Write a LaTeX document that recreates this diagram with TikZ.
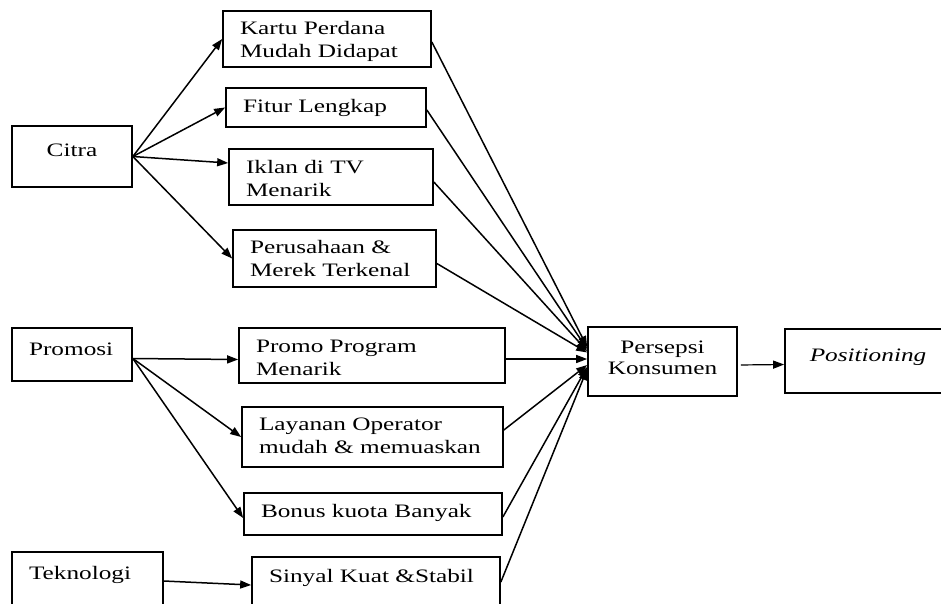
\documentclass[tikz,border=0pt]{standalone}
\usepackage{fontspec}
\setmainfont{Liberation Serif}[FakeStretch=1.33]
\usetikzlibrary{arrows.meta}
\begin{document}
\begin{tikzpicture}[x=1pt,y=-1pt,
  every node/.style={font=\fontsize{19pt}{23pt}\selectfont},
  box/.style={draw, line width=1.7pt, rectangle, inner xsep=17pt, inner ysep=0pt,
    align=left, text height=13pt},
  cbox/.style={draw, line width=1.7pt, rectangle, inner sep=0pt,
    align=center, text height=13pt},
  arr/.style={line width=1.5pt, -{Triangle[length=11pt,width=8pt]}},
  thinarr/.style={line width=1.2pt, -{Triangle[length=11pt,width=8pt]}}
]
\useasboundingbox (0,0) rectangle (941,603);

% left column
\node[cbox, minimum width=120pt, minimum height=61pt, text depth=14pt] (citra) at (72,156.5) {Citra};
\node[box, text width=86pt, minimum height=53pt, text depth=12pt] (promosi) at (72,354.5) {Promosi};
\node[box, text width=117pt, minimum height=58pt, text depth=17pt] (teknologi) at (87.5,581) {Teknologi};

% middle column
\node[box, text width=174pt, minimum height=56pt, text depth=23pt] (kartu) at (327,39) {Kartu Perdana\\Mudah Didapat};
\node[box, text width=166pt, minimum height=39pt, text depth=4pt] (fitur) at (326,107.5) {Fitur Lengkap};
\node[box, text width=170pt, minimum height=56pt, text depth=21pt] (iklan) at (331,177) {Iklan di TV\\Menarik};
\node[box, text width=169pt, minimum height=57pt, text depth=24pt] (perus) at (334.5,258.5) {Perusahaan \&\\Merek Terkenal};
\node[box, text width=232pt, minimum height=55pt, text depth=20pt] (promo) at (372,355.5) {Promo Program\\Menarik};
\node[box, text width=227pt, minimum height=60pt, text depth=27pt] (layanan) at (372.5,437) {Layanan Operator\\mudah \& memuaskan};
\node[box, text width=224pt, minimum height=42pt, text depth=7pt] (bonus) at (373,514) {Bonus kuota Banyak};
\node[box, text width=214pt, minimum height=50pt, text depth=13pt] (sinyal) at (376,582) {Sinyal Kuat \&Stabil};

% right column
\node[cbox, minimum width=149pt, minimum height=69pt, text height=34pt, text depth=9pt,
  font=\fontsize{19pt}{21pt}\selectfont] (persepsi) at (662.5,361.5) {Persepsi\\Konsumen};
\node[cbox, minimum width=166pt, minimum height=64pt, text depth=13pt] (positioning) at (868,361) {\itshape Positioning};

% connectors from Citra
\draw[arr] (citra.east) -- (kartu.west);
\draw[arr] (citra.east) -- (fitur.west);
\draw[arr] (citra.east) -- ([yshift=14pt]iklan.west);
\draw[arr] (citra.east) -- (perus.west);

% connectors from Promosi
\draw[arr] ([yshift=-4pt]promosi.east) -- ([yshift=-4pt]promo.west);
\draw[arr] ([yshift=-4pt]promosi.east) -- (layanan.west);
\draw[arr] ([yshift=-4pt]promosi.east) -- ([yshift=-4pt]bonus.west);

% connector from Teknologi
\draw[arr] (teknologi.east) -- ([yshift=-3pt]sinyal.west);

% connectors into Persepsi Konsumen
\draw[arr] ([yshift=-3pt]kartu.east) -- ([yshift=14.5pt]persepsi.west);
\draw[arr] ([yshift=-2.5pt]fitur.east) -- ([yshift=12.5pt]persepsi.west);
\draw[arr] ([yshift=-5pt]iklan.east) -- ([yshift=10.5pt]persepsi.west);
\draw[arr] ([yshift=-5pt]perus.east) -- ([yshift=9pt]persepsi.west);
\draw[arr] ([yshift=-3.5pt]promo.east) -- ([yshift=2.5pt]persepsi.west);
\draw[arr] ([yshift=7pt]layanan.east) -- ([yshift=-3.5pt]persepsi.west);
\draw[arr] ([yshift=-3pt]bonus.east) -- ([yshift=-5.5pt]persepsi.west);
\draw[arr] (sinyal.east) -- ([yshift=-7.5pt]persepsi.west);

% Persepsi -> Positioning
\draw[thinarr, shorten <=3pt] ([yshift=-3.5pt]persepsi.east) -- ([yshift=-3.5pt]positioning.west);
\end{tikzpicture}
\end{document}
